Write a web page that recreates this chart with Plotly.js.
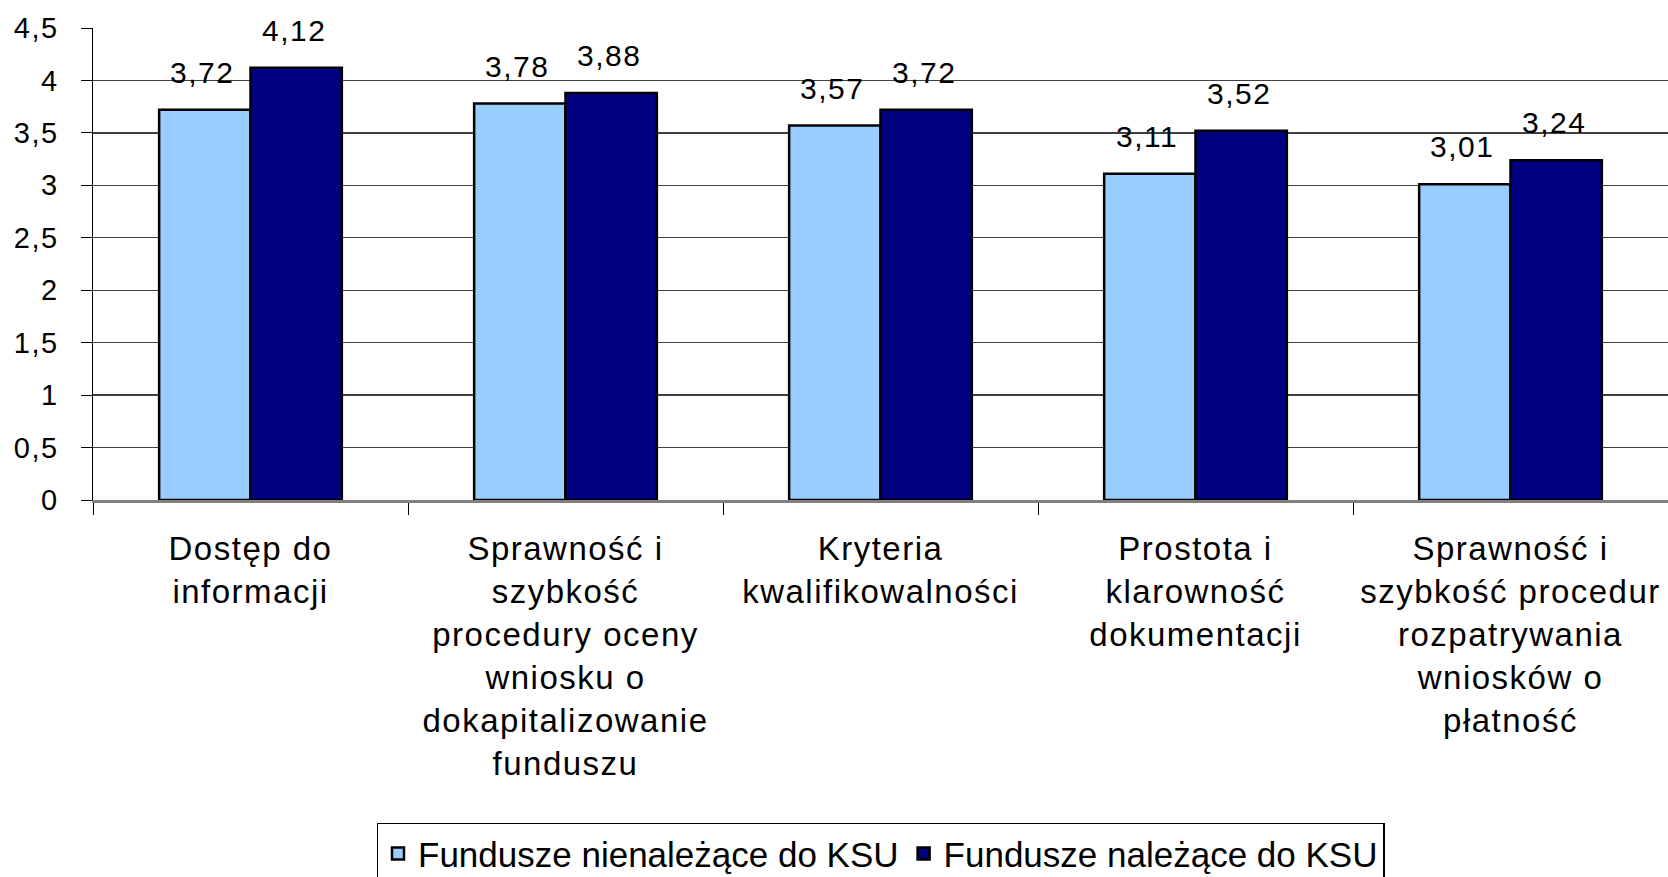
<!DOCTYPE html>
<html>
<head>
<meta charset="utf-8">
<script src="https://cdn.plot.ly/plotly-3.0.1.min.js"></script>
<style>
html, body { margin: 0; padding: 0; background: #fff; }
#chart { width: 1668px; height: 877px; }
#chart svg text { letter-spacing: 1.5px; }
#chart svg .legend text { letter-spacing: 0px; }
</style>
</head>
<body>
<div id="chart"></div>
<script>
const categories = [
  "Dostęp do<br>informacji",
  "Sprawność i<br>szybkość<br>procedury oceny<br>wniosku o<br>dokapitalizowanie<br>funduszu",
  "Kryteria<br>kwalifikowalności",
  "Prostota i<br>klarowność<br>dokumentacji",
  "Sprawność i<br>szybkość procedur<br>rozpatrywania<br>wniosków o<br>płatność"
];
const seriesNames = ["Fundusze nienależące do KSU", "Fundusze należące do KSU"];
const nonKSU = [3.72, 3.78, 3.57, 3.11, 3.01];
const ksu = [4.12, 3.88, 3.72, 3.52, 3.24];
const yTickVals = [0, 0.5, 1, 1.5, 2, 2.5, 3, 3.5, 4, 4.5];
const yTickText = ["0", "0,5", "1", "1,5", "2", "2,5", "3", "3,5", "4", "4,5"];

const FONT = "Liberation Sans, Arial, sans-serif";
const fmt = v => v.toFixed(2).replace('.', ',');

const traces = [
  { type: 'bar', name: seriesNames[0], x: categories, y: nonKSU,
    marker: { color: '#99CCFF', line: { color: '#000000', width: 2.5 } }, hoverinfo: 'none' },
  { type: 'bar', name: seriesNames[1], x: categories, y: ksu,
    marker: { color: '#000080', line: { color: '#000000', width: 2.5 } }, hoverinfo: 'none' }
];

const annotations = [];
categories.forEach((c, i) => {
  annotations.push({ x: c, y: nonKSU[i], xref: 'x', yref: 'y', text: fmt(nonKSU[i]),
    showarrow: false, xshift: -49, yshift: 19, yanchor: 'bottom',
    font: { family: FONT, size: 30, color: '#000' } });
  annotations.push({ x: c, y: ksu[i], xref: 'x', yref: 'y', text: fmt(ksu[i]),
    showarrow: false, xshift: 43, yshift: 19, yanchor: 'bottom',
    font: { family: FONT, size: 30, color: '#000' } });
});

const layout = {
  width: 1668, height: 877,
  margin: { l: 93, r: 0, t: 28, b: 377, pad: 0, autoexpand: false },
  paper_bgcolor: '#fff', plot_bgcolor: '#fff',
  font: { family: FONT, color: '#000' },
  barmode: 'group', bargap: 0.42, bargroupgap: 0,
  showlegend: true,
  legend: {
    orientation: 'h', x: 0.5, xanchor: 'center', y: -0.815, yanchor: 'bottom',
    bordercolor: '#000', borderwidth: 1.5, bgcolor: '#fff',
    font: { family: FONT, size: 35, color: '#000' },
    traceorder: 'normal', itemwidth: 30
  },
  xaxis: {
    type: 'category',
    tickson: 'boundaries', ticks: 'outside', ticklen: 12, tickwidth: 1, tickcolor: '#000',
    showline: true, linecolor: '#808080', linewidth: 2.5,
    showgrid: false, zeroline: false,
    tickfont: { family: FONT, size: 33, color: '#000' },
    ticklabelstandoff: 18,
    fixedrange: true
  },
  yaxis: {
    range: [0, 4.5], tickvals: yTickVals, ticktext: yTickText,
    ticks: 'outside', ticklen: 11, tickwidth: 1, tickcolor: '#000',
    showline: true, linecolor: '#000', linewidth: 1.5,
    showgrid: true, gridcolor: '#404040', gridwidth: 1.3,
    zeroline: false,
    tickfont: { family: FONT, size: 29, color: '#000' },
    ticklabelstandoff: 16,
    fixedrange: true
  },
  annotations: annotations
};

Plotly.newPlot('chart', traces, layout, { staticPlot: true, displayModeBar: false });
</script>
</body>
</html>
